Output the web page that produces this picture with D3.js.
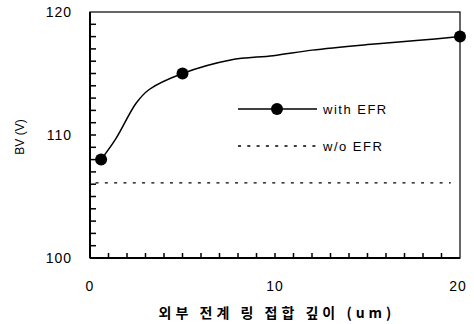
<!DOCTYPE html>
<html><head><meta charset="utf-8">
<script src="https://cdn.jsdelivr.net/npm/d3@7"></script>
<style>body{margin:0;background:#fff}svg{display:block}text{font-family:"Liberation Sans",Arial,sans-serif;fill:#000}</style>
</head><body>
<svg id="c" width="474" height="324"></svg>
<script>
const curveX = [0.6, 1.4, 2.5, 3.2, 5, 7.6, 9.9, 12, 15, 17.8, 20];
const curveY = [108, 109.7, 112.6, 113.7, 115, 116.1, 116.45, 116.9, 117.35, 117.7, 118];
const markerX = [0.6, 5, 20];
const markerY = [108, 115, 118];
const woEfrValue = 106.1;
const woEfrRange = [0.3, 19.5];
const xTicks = [0, 10, 20];
const yTicks = [100, 110, 120];
const xMinorTicks = [1,2,3,4,5,6,7,8,9,10,11,12,13,14,15,16,17,18,19];
const yMinorTicks = [101,102,103,104,105,106,107,108,109,110,111,112,113,114,115,116,117,118,119];
const legendLabels = ["with EFR", "w/o EFR"];
const xTitle = "외부 전계 링 접합 깊이 (um)";
const yTitle = "BV (V)";

const svg = d3.select("#c");
const L = 90, R = 460, T = 12, B = 258;
const x = d3.scaleLinear().domain([0, 20]).range([L, R]);
const y = d3.scaleLinear().domain([100, 120]).range([B, T]);

// frame
svg.append("rect").attr("x", L).attr("y", T).attr("width", R - L).attr("height", B - T)
  .attr("fill", "none").attr("stroke", "#000").attr("stroke-width", 1.2);
svg.append("line").attr("x1", L).attr("x2", L).attr("y1", T).attr("y2", B).attr("stroke", "#000").attr("stroke-width", 2);
svg.append("line").attr("x1", L).attr("x2", R).attr("y1", B).attr("y2", B).attr("stroke", "#000").attr("stroke-width", 2);

// inward minor ticks
svg.append("g").selectAll("rect").data(yMinorTicks).enter().append("rect")
  .attr("x", L).attr("y", d => y(d) - 0.75).attr("width", 6).attr("height", 1.5).attr("fill", "#000");
svg.append("g").selectAll("rect").data(xMinorTicks).enter().append("rect")
  .attr("x", d => x(d) - 0.75).attr("y", B - 5).attr("width", 1.5).attr("height", 5).attr("fill", "#000");

// tick labels
svg.selectAll(".yl").data(yTicks).enter().append("text").attr("class", "yl")
  .attr("x", 72).attr("y", d => y(d) + 5).attr("text-anchor", "end")
  .attr("font-size", 14).attr("letter-spacing", 1).text(d => d);
svg.selectAll(".xl").data(xTicks).enter().append("text").attr("class", "xl")
  .attr("x", d => x(d) + (d === 20 ? -2 : 0)).attr("y", 291).attr("text-anchor", "middle")
  .attr("font-size", 14).attr("letter-spacing", 1).text(d => d);

// titles
svg.append("text").attr("transform", `translate(24,${137}) rotate(-90)`).attr("text-anchor", "middle")
  .attr("font-size", 12).text(yTitle);
svg.append("text").attr("x", 277).attr("y", 318).attr("text-anchor", "middle")
  .attr("font-size", 14).attr("font-weight", "bold").attr("letter-spacing", 4)
  .style("font-family", "'Noto Sans CJK KR',sans-serif").text(xTitle);

// w/o EFR dotted line
svg.append("line").attr("x1", x(woEfrRange[0])).attr("x2", x(woEfrRange[1]))
  .attr("y1", y(woEfrValue)).attr("y2", y(woEfrValue))
  .attr("stroke", "#000").attr("stroke-width", 1.3).attr("stroke-dasharray", "3,6.3");

// curve
const pts = curveX.map((d, i) => [d, curveY[i]]);
svg.append("path").datum(pts)
  .attr("d", d3.line().x(d => x(d[0])).y(d => y(d[1])).curve(d3.curveCatmullRom.alpha(0.5)))
  .attr("fill", "none").attr("stroke", "#000").attr("stroke-width", 1.5);
svg.selectAll(".m").data(markerX).enter().append("circle").attr("class", "m")
  .attr("cx", d => x(d)).attr("cy", (d, i) => y(markerY[i])).attr("r", 6).attr("fill", "#000");

// legend
const ly1 = 109, ly2 = 146;
svg.append("line").attr("x1", 238).attr("x2", 317).attr("y1", ly1).attr("y2", ly1).attr("stroke", "#000").attr("stroke-width", 1.5);
svg.append("circle").attr("cx", 277).attr("cy", ly1).attr("r", 6).attr("fill", "#000");
svg.append("text").attr("x", 323).attr("y", ly1 + 5).attr("font-size", 13).attr("letter-spacing", 1.5).text(legendLabels[0]);
svg.append("line").attr("x1", 238).attr("x2", 317).attr("y1", ly2).attr("y2", ly2).attr("stroke", "#000").attr("stroke-width", 1.3).attr("stroke-dasharray", "3,6.3");
svg.append("text").attr("x", 323).attr("y", ly2 + 5).attr("font-size", 13).attr("letter-spacing", 1.5).text(legendLabels[1]);
</script>
</body></html>
